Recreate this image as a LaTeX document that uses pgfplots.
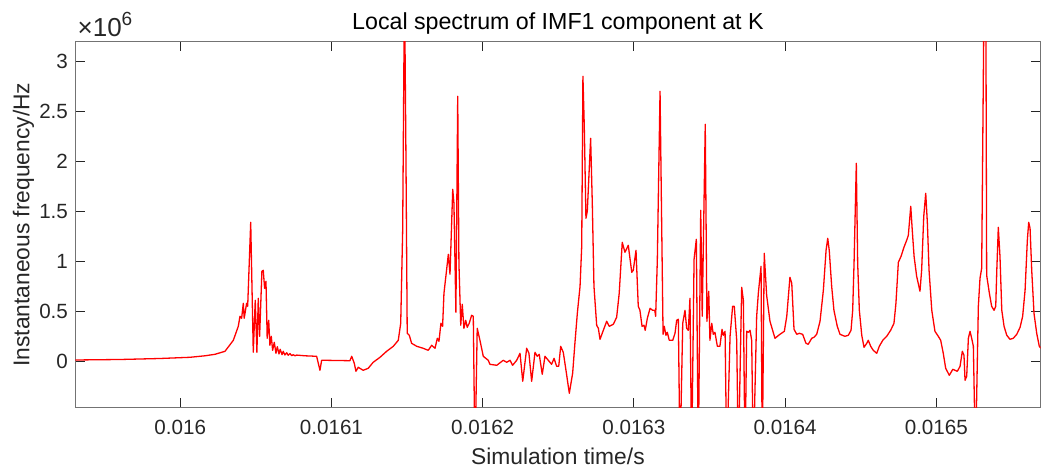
\documentclass[border=0pt]{standalone}
\usepackage{pgfplots}
\pgfplotsset{compat=1.18}
\usepackage{fontspec}
\setmainfont{Liberation Sans}
\definecolor{txt}{RGB}{38,38,38}
\pgfplotstableread{
x y
0.0159306 0.013
0.0159601 0.018
0.0159866 0.028
0.0160064 0.040
0.0160163 0.055
0.0160230 0.070
0.0160263 0.085
0.0160296 0.100
0.0160351 0.210
0.0160384 0.350
0.0160395 0.450
0.0160406 0.430
0.0160417 0.580
0.0160423 0.430
0.0160439 0.580
0.0160446 0.550
0.0160466 1.390
0.0160483 0.090
0.0160496 0.610
0.0160507 0.090
0.0160516 0.630
0.0160525 0.250
0.0160540 0.900
0.0160549 0.910
0.0160558 0.730
0.0160567 0.800
0.0160575 0.230
0.0160585 0.410
0.0160593 0.160
0.0160602 0.250
0.0160611 0.110
0.0160622 0.190
0.0160633 0.080
0.0160642 0.146
0.0160653 0.073
0.0160661 0.120
0.0160673 0.066
0.0160681 0.100
0.0160692 0.063
0.0160704 0.086
0.0160714 0.060
0.0160726 0.077
0.0160737 0.056
0.0160747 0.066
0.0160759 0.055
0.0160770 0.062
0.0160825 0.055
0.0160902 0.050
0.0160924 -0.090
0.0160935 0.010
0.0160957 0.010
0.0161122 0.006
0.0161134 0.050
0.0161151 -0.020
0.0161162 -0.100
0.0161177 -0.060
0.0161210 -0.090
0.0161243 -0.070
0.0161276 -0.010
0.0161321 0.040
0.0161365 0.100
0.0161409 0.150
0.0161442 0.210
0.0161458 0.380
0.0161471 1.310
0.0161483 3.800
0.0161493 1.980
0.0161501 0.280
0.0161515 0.260
0.0161530 0.180
0.0161564 0.150
0.0161607 0.130
0.0161640 0.110
0.0161663 0.160
0.0161685 0.130
0.0161700 0.230
0.0161711 0.200
0.0161724 0.380
0.0161735 0.350
0.0161744 0.680
0.0161773 1.070
0.0161784 0.870
0.0161802 1.720
0.0161810 1.580
0.0161823 0.490
0.0161835 2.650
0.0161843 0.980
0.0161855 0.360
0.0161865 0.570
0.0161876 0.330
0.0161888 0.410
0.0161898 0.340
0.0161911 0.380
0.0161927 0.460
0.0161938 0.450
0.0161949 -1.000
0.0161964 0.330
0.0161982 0.210
0.0162004 0.050
0.0162037 0.010
0.0162048 -0.030
0.0162093 -0.040
0.0162136 0.010
0.0162159 -0.010
0.0162181 0.010
0.0162198 -0.040
0.0162225 0.010
0.0162247 0.080
0.0162265 -0.200
0.0162291 0.130
0.0162306 0.080
0.0162324 -0.200
0.0162346 0.090
0.0162361 0.050
0.0162374 0.070
0.0162394 -0.130
0.0162412 0.050
0.0162434 0.010
0.0162456 -0.030
0.0162472 0.030
0.0162489 -0.050
0.0162503 -0.050
0.0162516 0.150
0.0162533 0.090
0.0162551 -0.090
0.0162573 -0.320
0.0162595 -0.120
0.0162610 0.180
0.0162626 0.480
0.0162644 0.750
0.0162655 1.150
0.0162663 2.850
0.0162672 2.350
0.0162683 1.430
0.0162692 1.500
0.0162714 2.230
0.0162725 1.580
0.0162736 0.750
0.0162754 0.360
0.0162765 0.330
0.0162776 0.220
0.0162798 0.310
0.0162820 0.400
0.0162837 0.350
0.0162864 0.370
0.0162886 0.440
0.0162903 0.680
0.0162923 1.190
0.0162941 1.090
0.0162963 1.160
0.0162986 0.890
0.0162996 0.910
0.0163014 1.110
0.0163029 0.550
0.0163040 0.510
0.0163054 0.350
0.0163067 0.360
0.0163075 0.310
0.0163089 0.430
0.0163107 0.530
0.0163124 0.510
0.0163138 0.510
0.0163144 0.450
0.0163155 1.010
0.0163173 2.700
0.0163184 1.350
0.0163193 0.270
0.0163201 0.350
0.0163212 0.260
0.0163221 0.290
0.0163234 0.210
0.0163257 0.210
0.0163272 0.280
0.0163283 0.410
0.0163294 0.420
0.0163305 -1.000
0.0163323 0.380
0.0163338 0.510
0.0163349 0.330
0.0163360 0.310
0.0163371 0.630
0.0163382 -1.000
0.0163398 1.020
0.0163413 1.220
0.0163426 -1.000
0.0163442 1.510
0.0163452 0.450
0.0163472 2.370
0.0163483 0.400
0.0163495 0.700
0.0163503 0.210
0.0163515 0.380
0.0163525 0.270
0.0163536 0.290
0.0163552 0.150
0.0163569 0.150
0.0163583 0.320
0.0163591 0.260
0.0163603 0.300
0.0163614 -1.000
0.0163636 0.250
0.0163653 0.550
0.0163664 0.550
0.0163680 0.210
0.0163691 -1.000
0.0163713 0.740
0.0163724 0.610
0.0163735 -1.000
0.0163746 0.300
0.0163757 0.290
0.0163768 0.310
0.0163779 0.210
0.0163790 -1.000
0.0163812 0.450
0.0163823 0.680
0.0163841 0.950
0.0163849 -1.000
0.0163862 1.080
0.0163878 0.660
0.0163900 0.400
0.0163933 0.230
0.0163966 0.270
0.0163995 0.300
0.0164011 0.450
0.0164032 0.840
0.0164044 0.780
0.0164059 0.320
0.0164077 0.270
0.0164094 0.280
0.0164116 0.270
0.0164138 0.180
0.0164153 0.170
0.0164176 0.230
0.0164191 0.240
0.0164209 0.270
0.0164231 0.400
0.0164253 0.710
0.0164271 1.110
0.0164282 1.230
0.0164292 1.110
0.0164308 0.750
0.0164323 0.510
0.0164345 0.350
0.0164363 0.270
0.0164396 0.250
0.0164418 0.260
0.0164436 0.310
0.0164447 0.510
0.0164456 0.980
0.0164471 1.980
0.0164480 0.980
0.0164491 0.510
0.0164507 0.260
0.0164522 0.140
0.0164540 0.180
0.0164550 0.210
0.0164566 0.150
0.0164583 0.110
0.0164606 0.080
0.0164623 0.150
0.0164646 0.210
0.0164672 0.250
0.0164698 0.310
0.0164720 0.380
0.0164733 0.580
0.0164749 0.990
0.0164767 1.050
0.0164786 1.140
0.0164804 1.210
0.0164815 1.260
0.0164831 1.550
0.0164841 1.310
0.0164853 1.050
0.0164870 0.850
0.0164892 0.700
0.0164903 0.910
0.0164917 1.450
0.0164930 1.680
0.0164941 1.380
0.0164952 0.910
0.0164970 0.510
0.0164991 0.300
0.0165013 0.250
0.0165029 0.210
0.0165046 0.080
0.0165062 -0.070
0.0165086 -0.140
0.0165109 -0.080
0.0165139 -0.100
0.0165157 -0.050
0.0165172 0.100
0.0165183 0.060
0.0165190 -0.190
0.0165201 -0.150
0.0165212 0.230
0.0165223 0.300
0.0165234 0.230
0.0165245 0.150
0.0165259 -1.000
0.0165278 0.550
0.0165289 0.830
0.0165300 0.930
0.0165317 3.900
0.0165327 3.900
0.0165333 0.860
0.0165351 0.680
0.0165366 0.550
0.0165382 0.510
0.0165393 0.550
0.0165400 0.910
0.0165410 1.340
0.0165421 1.050
0.0165433 0.510
0.0165448 0.350
0.0165466 0.260
0.0165487 0.220
0.0165509 0.230
0.0165532 0.270
0.0165554 0.340
0.0165571 0.450
0.0165587 0.710
0.0165602 1.210
0.0165611 1.390
0.0165620 1.330
0.0165631 0.910
0.0165646 0.480
0.0165664 0.280
0.0165681 0.150
0.0165692 0.130
}\imfdata
\begin{document}
\begin{tikzpicture}
\useasboundingbox (-37.65pt,-31.5pt) rectangle (482.85pt,204pt);
\begin{axis}[
  at={(0pt,0pt)}, anchor=south west,
  scale only axis,
  width=482.6pt, height=183.35pt,
  xmin=0.0159306, xmax=0.0165689,
  ymin=-0.467, ymax=3.2,
  xtick={0.016,0.0161,0.0162,0.0163,0.0164,0.0165},
  xticklabels={0.016,0.0161,0.0162,0.0163,0.0164,0.0165},
  ytick={0,0.5,1,1.5,2,2.5,3},
  yticklabels={0,0.5,1,1.5,2,2.5,3},
  scaled x ticks=false, scaled y ticks=false,
  tick align=inside,
  major tick length=5pt,
  tick style={black!85, line width=0.5pt},
  axis line style={black!55, line width=0.5pt},
  xtick pos=both, ytick pos=both,
  ticklabel style={font=\fontsize{10.3}{12}\selectfont, text=txt},
  xticklabel style={anchor=base, inner sep=0pt, yshift=-13.5pt},
  yticklabel style={anchor=east, inner sep=0pt, xshift=-3.5pt},
  xlabel={Simulation time/s},
  ylabel={Instantaneous frequency/Hz},
  xlabel style={at={(axis description cs:0.5,-0.1554)}, anchor=base, inner sep=0pt, font=\fontsize{11.4}{13}\selectfont, text=txt},
  ylabel style={at={(axis description cs:-0.0475,0.5)}, anchor=base, inner sep=0pt, font=\fontsize{11.4}{13}\selectfont, text=txt},
  title={Local spectrum of IMF1 component at K},
  title style={at={(axis description cs:0.5,1)}, anchor=base, inner sep=0pt, yshift=0pt, font=\fontsize{11.6}{13}\selectfont, text=black},
  clip mode=individual,
]
\addplot[red, line width=0.65pt, line join=round] table[x=x, y=y] {\imfdata};
\node[anchor=base west, inner sep=0pt, font=\fontsize{13}{15}\selectfont, text=txt] at (rel axis cs:0.002,1.013) {×10\raisebox{0.8ex}{\fontsize{9.5}{11}\selectfont 6}};
\end{axis}
\end{tikzpicture}
\end{document}
